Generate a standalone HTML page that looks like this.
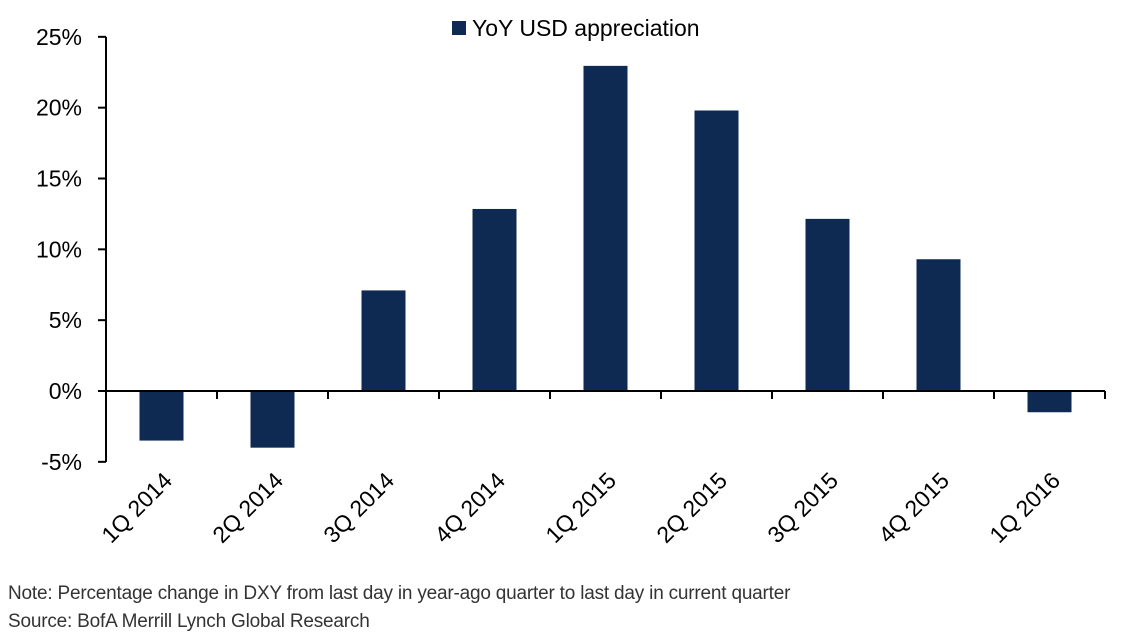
<!DOCTYPE html>
<html><head><meta charset="utf-8"><style>
body{margin:0;background:#fff;width:1122px;height:637px;overflow:hidden;font-family:"Liberation Sans",sans-serif}
.note{position:absolute;left:8px;font-size:19px;color:#333;font-family:"Liberation Sans Narrow","Liberation Sans",sans-serif;letter-spacing:-0.2px}
</style></head><body>
<svg id="chart" width="1122" height="637" style="position:absolute;left:0;top:0"></svg>
<div class="note" style="top:583px">Note: Percentage change in DXY from last day in year-ago quarter to last day in current quarter</div>
<div class="note" style="top:611px">Source: BofA Merrill Lynch Global Research</div>
<script>
const categories=["1Q 2014","2Q 2014","3Q 2014","4Q 2014","1Q 2015","2Q 2015","3Q 2015","4Q 2015","1Q 2016"];
const values=[-3.5,-4.0,7.1,12.85,22.95,19.8,12.15,9.3,-1.5];
const yTicks=[25,20,15,10,5,0,-5];
const yTickLabels=["25%","20%","15%","10%","5%","0%","-5%"];
const NS="http://www.w3.org/2000/svg";
const svg=document.getElementById('chart');
const x0=106,catW=111,y0=391,pxPer=(462-37)/30;
const y=v=>y0-v*pxPer;
function mk(t,a,p){const e=document.createElementNS(NS,t);for(const k in a)e.setAttribute(k,a[k]);(p||svg).appendChild(e);return e;}
values.forEach((v,i)=>{const cx=x0+catW*(i+0.5);const r=mk('rect',{x:cx-22,y:Math.min(y(v),y0),width:44,height:Math.abs(y(v)-y0),fill:'#0e2a52'});

});
const ya=mk('line',{x1:x0,y1:y(25),x2:x0,y2:y(-5),stroke:'#000','stroke-width':2});

yTicks.forEach((t,i)=>{mk('line',{x1:x0-8,y1:y(t),x2:x0,y2:y(t),stroke:'#000','stroke-width':2});
const tx=mk('text',{x:x0-24,y:y(t)+8,'text-anchor':'end','font-size':23,fill:'#000'});tx.textContent=yTickLabels[i];
});
const xa=mk('line',{x1:x0-8,y1:y0,x2:x0+catW*categories.length,y2:y0,stroke:'#000','stroke-width':2});

categories.forEach((c,i)=>{const tx=x0+catW*(i+1);mk('line',{x1:tx,y1:y0,x2:tx,y2:y0+8,stroke:'#000','stroke-width':2});
const cx=x0+catW*(i+0.5)+12;const t=mk('text',{x:cx,y:482,'text-anchor':'end','font-size':23,fill:'#000',transform:`rotate(-45 ${cx} 482)`});t.textContent=c;
});
const lg=mk('g',{});
mk('rect',{x:452,y:21,width:14,height:14,fill:'#0e2a52'},lg);
const lt=mk('text',{x:472,y:36,'font-size':23,fill:'#000'},lg);lt.textContent='YoY USD appreciation';
</script>
</body></html>
